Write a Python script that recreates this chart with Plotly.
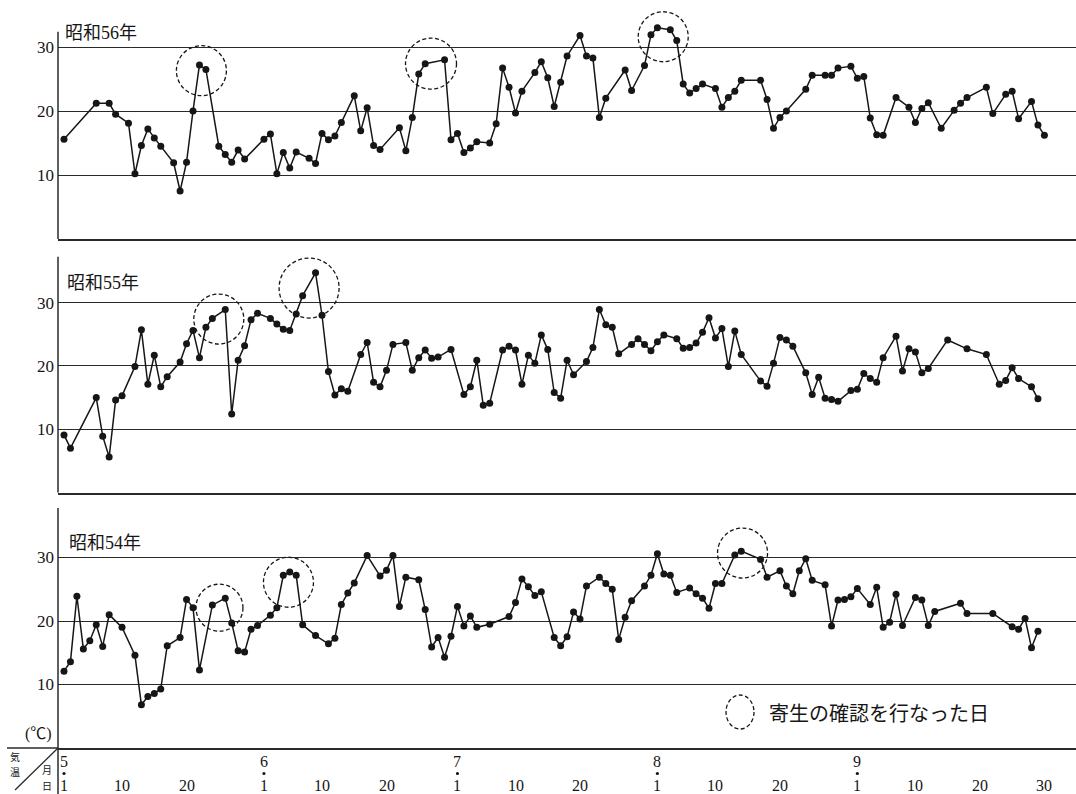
import plotly.graph_objects as go

# ---------------- data (day index: 0 = May 1) ----------------
month_names = ["5", "6", "7", "8", "9"]
month_lengths = [31, 30, 31, 31, 30]
day_ticks = [1, 10, 20]
last_day_tick = 30          # extra tick for the last month

s56_days = [0, 5, 7, 8, 10, 11, 12, 13, 14, 15, 17, 18, 19, 20, 21, 22, 24, 25, 26, 27, 28,
            31, 32, 33, 34, 35, 36, 38, 39, 40, 41, 42, 43, 45, 46, 47, 48, 49, 52, 53, 54,
            55, 56, 59, 60, 61, 62, 63, 64, 66, 67, 68, 69, 70, 71, 73, 74, 75, 76, 77, 78,
            80, 81, 82, 83, 84, 87, 88, 90, 91, 92, 94, 95, 96, 97, 98, 99, 101, 102, 103,
            104, 105, 108, 109, 110, 111, 112, 115, 116, 118, 119, 120, 122, 123, 124, 125,
            126, 127, 129, 131, 132, 133, 134, 136, 138, 139, 140, 143, 144, 146, 147, 148,
            150, 151, 152]
s56_temp = [15.6, 21.2, 21.2, 19.5, 18.1, 10.2, 14.6, 17.2, 15.8, 14.5, 11.9, 7.5, 12.0, 20.0,
            27.2, 26.5, 14.5, 13.2, 12.0, 13.9, 12.5,
            15.6, 16.4, 10.2, 13.5, 11.1, 13.6, 12.6, 11.8, 16.5, 15.5, 16.1, 18.2, 22.4, 16.9,
            20.5, 14.6, 14.0, 17.4, 13.8, 19.0,
            25.8, 27.4, 28.0, 15.5, 16.5, 13.5, 14.2, 15.2, 15.0, 18.0, 26.7, 23.7, 19.7, 23.1,
            26.0, 27.7, 25.2, 20.7, 24.5, 28.6,
            31.8, 28.6, 28.3, 19.0, 22.0, 26.4, 23.2, 27.1, 31.9, 33.0, 32.7, 31.0, 24.2, 22.8,
            23.5, 24.2, 23.5, 20.6, 22.1,
            23.1, 24.8, 24.8, 21.8, 17.3, 19.0, 20.0, 23.4, 25.6, 25.6, 25.6, 26.7, 27.0, 25.1,
            25.4, 18.9,
            16.3, 16.2, 22.1, 20.6, 18.2, 20.4, 21.3, 17.3, 20.1, 21.2, 22.1, 23.7, 19.6, 22.6,
            23.1, 18.8,
            21.5, 17.8, 16.2]

s55_days = [0, 1, 5, 6, 7, 8, 9, 11, 12, 13, 14, 15, 16, 18, 19, 20, 21, 22, 23, 25, 26, 27,
            28, 29, 30, 32, 33, 34, 35, 36, 37, 39, 40, 41, 42, 43, 44, 46, 47, 48, 49, 50, 51,
            53, 54, 55, 56, 57, 58, 60, 62, 63, 64, 65, 66, 68, 69, 70, 71, 72, 73, 74, 75, 76,
            77, 78, 79, 81, 82, 83, 84, 85, 86, 88, 89, 90, 91, 92, 93, 95, 96, 97, 98, 99,
            100, 101, 102, 103, 104, 105, 108, 109, 110, 111, 112, 113, 115, 116, 117, 118,
            119, 120, 122, 123, 124, 125, 126, 127, 129, 130, 131, 132, 133, 134, 137, 140,
            143, 145, 146, 147, 148, 150, 151]
s55_temp = [9.1, 7.0, 15.0, 8.9, 5.6, 14.6, 15.3, 19.9, 25.7, 17.1, 21.7, 16.7, 18.3, 20.6,
            23.5, 25.6, 21.3, 26.1, 27.5, 28.9, 12.4, 20.9,
            23.2, 27.3, 28.3, 27.5, 26.6, 25.8, 25.6, 28.2, 31.1, 34.7, 28.0, 19.1, 15.4, 16.4,
            16.0, 21.8, 23.7, 17.4, 16.7, 19.3, 23.4,
            23.7, 19.3, 21.3, 22.5, 21.2, 21.4, 22.6, 15.5, 16.7, 20.9, 13.8, 14.1, 22.5, 23.1,
            22.5, 17.1, 21.7, 20.4, 24.9, 22.6, 15.8,
            14.9, 20.9, 18.6, 20.7, 22.9, 28.9, 26.5, 26.1, 21.9, 23.4, 24.3, 23.4, 22.4, 23.8,
            24.9, 24.3, 22.8, 22.9, 23.6, 25.3,
            27.6, 24.4, 25.9, 19.9, 25.5, 21.8, 17.6, 16.8, 20.4, 24.5, 24.1, 23.1, 18.9, 15.5,
            18.2, 14.9,
            14.7, 14.4, 16.1, 16.3, 18.8, 18.0, 17.4, 21.3, 24.7, 19.2, 22.7, 22.2, 18.9, 19.6,
            24.1, 22.7,
            21.8, 17.1, 17.7, 19.7, 18.0, 16.7, 14.8]

s54_days = [0, 1, 2, 3, 4, 5, 6, 7, 9, 11, 12, 13, 14, 15, 16, 18, 19, 20, 21, 23, 25, 26,
            27, 28, 29, 30, 32, 33, 34, 35, 36, 37, 39, 41, 42, 43, 44, 45, 47, 49, 50, 51,
            52, 53, 55, 56, 57, 58, 59, 60, 61, 62, 63, 64, 66, 69, 70, 71, 72, 73, 74, 76,
            77, 78, 79, 80, 81, 83, 84, 85, 86, 87, 88, 90, 91, 92, 93, 94, 95, 97, 98, 99,
            100, 101, 102, 104, 105, 108, 109, 111, 112, 113, 114, 115, 116, 118, 119, 120,
            121, 122, 123, 125, 126, 127, 128, 129, 130, 132, 133, 134, 135, 139, 140, 144,
            147, 148, 149, 150, 151]
s54_temp = [12.1, 13.6, 23.9, 15.6, 16.9, 19.4, 16.0, 21.0, 19.0, 14.6, 6.8, 8.1, 8.6, 9.3,
            16.1, 17.4, 23.4, 22.1, 12.3, 22.5, 23.6, 19.7,
            15.3, 15.1, 18.7, 19.3, 20.9, 22.1, 27.2, 27.7, 27.2, 19.4, 17.7, 16.4, 17.3, 22.6,
            24.4, 26.0, 30.3, 27.1, 28.0, 30.3,
            22.3, 26.9, 26.5, 21.8, 15.9, 17.4, 14.3, 17.6, 22.3, 19.2, 20.8, 19.0, 19.5, 20.7,
            22.9, 26.6, 25.4, 24.0, 24.6, 17.4,
            16.1, 17.5, 21.4, 20.3, 25.5, 26.9, 25.9, 25.0, 17.1, 20.6, 23.2, 25.5, 27.2, 30.6,
            27.4, 27.2, 24.5, 25.2, 24.3, 23.6,
            22.0, 25.9, 25.9, 30.4, 31.0, 29.7, 26.9, 27.9, 25.5, 24.3, 27.9, 29.8, 26.4, 25.7,
            19.2, 23.3,
            23.4, 23.8, 25.1, 22.6, 25.3, 19.0, 19.8, 24.2, 19.3, 23.7, 23.3, 19.3, 21.5, 22.8,
            21.2, 21.2,
            19.1, 18.7, 20.4, 15.8, 18.4]

# days on which parasitism was checked (dashed circles): centre day / temperature
c56_days = [21.3, 56.9, 92.9]
c56_vals = [26.3, 27.4, 31.6]
c55_days = [24.0, 38.0]
c55_vals = [27.4, 32.3]
c54_days = [24.1, 34.8, 105.2]
c54_vals = [22.1, 26.1, 30.7]

panel_titles = ["昭和56年", "昭和55年", "昭和54年"]
legend_text = "寄生の確認を行なった日"
unit_text = "(℃)"

# ---------------- layout helpers ----------------
W, H = 1076, 794
def px(x):
    return x / W
def py(y):
    return 1 - y / H

INK = "#161616"
GRID = "#2a2a2a"
SERIF = "Liberation Serif, Noto Sans CJK JP, serif"
CJK = "Noto Sans CJK JP, sans-serif"
DASH = "4px,2.5px"

X_LEFT_PX = 58.0
X0_PX, X_PER_DAY = 64.0, 6.45
x_range = [(X_LEFT_PX - X0_PX) / X_PER_DAY, (W - X0_PX) / X_PER_DAY]

# (title, days, temps, circle days, circle vals, circle radii,
#  bottom px, axis-top px, domain-top px, px per degree, title pos)
panels = [
    (panel_titles[0], s56_days, s56_temp, c56_days, c56_vals, [25, 25.5, 25],
     239.0, 31.7, 0.0, 6.40, (63, 33)),
    (panel_titles[1], s55_days, s55_temp, c55_days, c55_vals, [25, 30],
     492.5, 256.7, 241.0, 6.33, (65, 283)),
    (panel_titles[2], s54_days, s54_temp, c54_days, c54_vals, [23.5, 25, 25],
     748.0, 508.0, 494.0, 6.35, (67, 543)),
]

fig = go.Figure()
shapes = []
annotations = []
layout_axes = {}

for i, (title, days, temps, cd, cv, cr, ybot, ytop, dtop, ppd, tpos) in enumerate(panels, start=1):
    sfx = "" if i == 1 else str(i)
    xname, yname = "x" + sfx, "y" + sfx
    fig.add_trace(go.Scatter(
        x=days, y=temps, mode="lines+markers",
        line=dict(color=INK, width=1.5),
        marker=dict(color=INK, size=7),
        xaxis=xname, yaxis=yname, showlegend=False, hoverinfo="skip"))

    ymax = (ybot - dtop) / ppd
    layout_axes["xaxis" + sfx] = dict(
        domain=[px(X_LEFT_PX), 1], range=x_range, anchor=yname,
        showgrid=False, zeroline=False, showticklabels=False, ticks="",
        showline=True, linecolor=GRID, linewidth=1.5, fixedrange=True)
    layout_axes["yaxis" + sfx] = dict(
        domain=[py(ybot), py(dtop)], range=[0, ymax], anchor=xname,
        tickvals=[10, 20, 30], ticktext=["10", "20", "30"],
        tickfont=dict(family=SERIF, size=17, color=INK),
        showgrid=True, gridcolor=GRID, gridwidth=1.3, zeroline=False,
        showline=False, ticks="", ticklabelstandoff=3, fixedrange=True)

    # vertical axis line of the panel (panel 3 continues down into the date header)
    shapes.append(dict(type="line", xref="paper", yref="paper",
                       x0=px(X_LEFT_PX), x1=px(X_LEFT_PX),
                       y0=0 if i == len(panels) else py(ybot), y1=py(ytop),
                       line=dict(color=GRID, width=1.5)))

    for d, v, r in zip(cd, cv, cr):
        shapes.append(dict(type="circle", xref=xname, yref=yname,
                           xsizemode="pixel", ysizemode="pixel",
                           xanchor=d, yanchor=v, x0=-r, x1=r, y0=-r, y1=r,
                           line=dict(color=INK, width=1.3, dash=DASH)))

    annotations.append(dict(text=title, xref="paper", yref="paper",
                            x=px(tpos[0]), y=py(tpos[1]), xanchor="left", yanchor="middle",
                            showarrow=False, font=dict(family=SERIF, size=18, color=INK)))

# date labels under the bottom panel
start = 0
for mi, (mname, mlen) in enumerate(zip(month_names, month_lengths)):
    ticks = list(day_ticks) + ([last_day_tick] if mi == len(month_names) - 1 else [])
    for t in ticks:
        d = start + t - 1
        annotations.append(dict(text=str(t), xref="x3", yref="paper", x=d, y=py(785),
                                xanchor="center", yanchor="middle", showarrow=False,
                                font=dict(family=SERIF, size=16, color=INK)))
    annotations.append(dict(text=mname, xref="x3", yref="paper", x=start, y=py(761),
                            xanchor="center", yanchor="middle", showarrow=False,
                            font=dict(family=SERIF, size=16, color=INK)))
    shapes.append(dict(type="circle", xref="x3", yref="paper", xsizemode="pixel",
                       ysizemode="pixel", xanchor=start, yanchor=py(773.5),
                       x0=-1.6, x1=1.6, y0=-1.6, y1=1.6,
                       fillcolor=INK, line=dict(color=INK, width=0)))
    start += mlen

# corner header (気温 / 月日) and unit
for txt, (cx, cy) in zip(["気", "温", "月", "日"], [(15, 756), (15, 771), (47, 769), (47, 785)]):
    annotations.append(dict(text=txt, xref="paper", yref="paper", x=px(cx), y=py(cy),
                            xanchor="center", yanchor="middle", showarrow=False,
                            font=dict(family=CJK, size=10, color=INK)))
annotations.append(dict(text=unit_text, xref="paper", yref="paper", x=px(38), y=py(734),
                        xanchor="center", yanchor="middle", showarrow=False,
                        font=dict(family=SERIF, size=16, color=INK)))

# legend
annotations.append(dict(text=legend_text, xref="paper", yref="paper", x=px(767), y=py(712),
                        xanchor="left", yanchor="middle", showarrow=False,
                        font=dict(family=CJK, size=20, color=INK)))
shapes.append(dict(type="circle", xref="paper", yref="paper", xsizemode="pixel", ysizemode="pixel",
                   xanchor=px(740), yanchor=py(712), x0=-14, x1=14, y0=-17, y1=17,
                   line=dict(color=INK, width=1.3, dash=DASH)))

# frame pieces of the date header
shapes.append(dict(type="line", xref="paper", yref="paper", x0=px(7), x1=px(X_LEFT_PX),
                   y0=py(748), y1=py(748), line=dict(color=GRID, width=1.5)))
shapes.append(dict(type="line", xref="paper", yref="paper", x0=px(15), x1=px(X_LEFT_PX),
                   y0=py(790), y1=py(748), line=dict(color=GRID, width=1.3)))

fig.update_layout(
    width=W, height=H, margin=dict(l=0, r=0, t=0, b=0),
    paper_bgcolor="white", plot_bgcolor="white",
    shapes=shapes, annotations=annotations, showlegend=False,
    **layout_axes)

fig.write_html("out.html", config={"displayModeBar": False},
               post_script="document.body.style.margin='0';document.body.style.overflow='hidden';")
